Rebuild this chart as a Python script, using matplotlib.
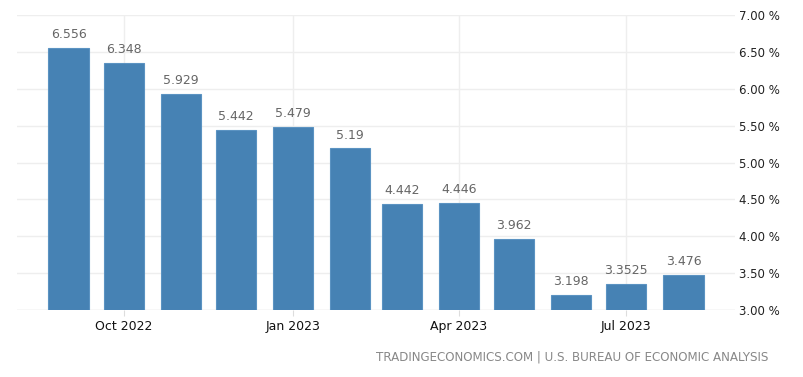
import matplotlib
matplotlib.use("Agg")
import matplotlib.pyplot as plt
import matplotlib.dates as mdates
import datetime as dt

months = ["2022-09", "2022-10", "2022-11", "2022-12", "2023-01", "2023-02",
          "2023-03", "2023-04", "2023-05", "2023-06", "2023-07", "2023-08"]
values = [6.556, 6.348, 5.929, 5.442, 5.479, 5.19, 4.442, 4.446, 3.962, 3.198, 3.3525, 3.476]
labels = ["6.556", "6.348", "5.929", "5.442", "5.479", "5.19", "4.442", "4.446", "3.962", "3.198", "3.3525", "3.476"]
xtick_months = ["2022-10", "2023-01", "2023-04", "2023-07"]
xtick_labels = ["Oct 2022", "Jan 2023", "Apr 2023", "Jul 2023"]
yticks = [3.0, 3.5, 4.0, 4.5, 5.0, 5.5, 6.0, 6.5, 7.0]
source = "TRADINGECONOMICS.COM | U.S. BUREAU OF ECONOMIC ANALYSIS"

def to_date(s):
    y, m = s.split("-")
    return dt.date(int(y), int(m), 1)

dates = [to_date(m) for m in months]
tick_dates = [to_date(m) for m in xtick_months]

fig = plt.figure(figsize=(8.04, 3.77), dpi=100)
ax = fig.add_axes([17/804, 67/377, 718/804, 295/377])

ax.bar(dates, [v - 3.0 for v in values], bottom=3.0, width=21.8,
       color="#4682b4", edgecolor="#5b93c2", linewidth=0.8, zorder=3)
for d, v, l in zip(dates, values, labels):
    ax.annotate(l, (mdates.date2num(d), v), xytext=(0, 5), textcoords="offset points",
                ha="center", va="bottom", fontsize=9, color="#666666", zorder=4)

ax.set_ylim(3.0, 7.0)
ax.set_xlim(mdates.date2num(dt.date(2022, 8, 4)), mdates.date2num(dt.date(2023, 8, 29)))
ax.set_yticks(yticks)
ax.set_yticklabels([f"{t:.2f} %" for t in yticks])
ax.yaxis.tick_right()
ax.tick_params(axis="y", length=0, pad=3, labelsize=8.5, labelcolor="#222222")
ax.set_xticks([mdates.date2num(d) for d in tick_dates])
ax.set_xticklabels(xtick_labels)
ax.tick_params(axis="x", length=4, color="#dddddd", pad=3, labelsize=9, labelcolor="#111111")

ax.grid(True, color="#eeeeee", linewidth=1, zorder=0)
for s in ax.spines.values():
    s.set_visible(False)
ax.axhline(3.0, color="#e6e6e6", linewidth=1, zorder=1)

fig.text(768/804, 1 - 357/377, source, ha="right", va="center", fontsize=8.6, color="#888888")

fig.savefig("out.png", dpi=100)
